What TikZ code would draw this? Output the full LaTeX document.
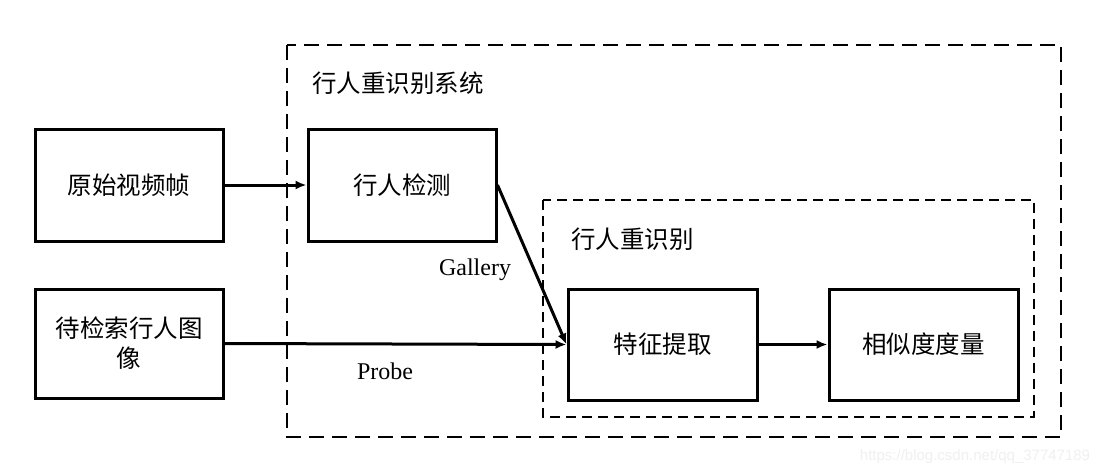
\documentclass[tikz,border=0pt]{standalone}
\usepackage{fontspec}
\setmainfont{Liberation Serif}
\newfontfamily\cjk{Noto Sans CJK SC}
\newfontfamily\wmfont{Liberation Sans}
\usetikzlibrary{arrows.meta}
\begin{document}
\begin{tikzpicture}[x=1pt,y=-1pt,
  box/.style={draw,line width=3pt,minimum width=#1,inner sep=0pt,font=\cjk\fontsize{24.5}{30}\selectfont},
  outerdash/.style={draw,line width=2.4pt,dash pattern=on 15pt off 8pt},
  innerdash/.style={draw,line width=2.2pt,dash pattern=on 10pt off 6pt},
  conn/.style={line width=3pt,-{Latex[length=11pt,width=9pt]}},
  lbl/.style={font=\cjk\fontsize{24.5}{30}\selectfont,inner sep=0pt},
  en/.style={font=\fontsize{24}{28}\selectfont,inner sep=0pt}]
\useasboundingbox (0,0) rectangle (1102,475);
\fill[white] (0,0) rectangle (1102,475);
% dashed frames
\draw[outerdash] (287,45) rectangle (1061,437);
\draw[innerdash] (543,200) rectangle (1034,417);
% boxes
\node[box=188pt,minimum height=112pt] (raw) at (129,185) {原始视频帧};
\node[box=188pt,minimum height=109pt,align=center] (probe) at (129,343.5) {待检索行人图\\像};
\node[box=188pt,minimum height=112pt] (det) at (402,185) {行人检测};
\node[box=189pt,minimum height=111pt] (fe) at (662.5,344.5) {特征提取};
\node[box=189pt,minimum height=111pt] (sim) at (923.5,344.5) {相似度度量};
% labels
\node[lbl,anchor=west] (sys) at (312,83) {行人重识别系统};
\node[lbl,anchor=west] (reid) at (571,239) {行人重识别};
\node[en] (gal) at (475,270) {Gallery};
\node[en] (prb) at (385,371) {Probe};
% connectors
\draw[conn] (raw.east) -- (det.west);
\draw[conn] (probe.east) -- (fe.west);
\draw[conn] (det.east) -- (fe.west);
\draw[conn] (fe.east) -- (sim.west);
% watermark
\node[font=\wmfont\fontsize{15}{18}\selectfont,text=black!6,inner sep=0pt] (wm) at (975,457) {https://blog.csdn.net/qq\_37747189};
\end{tikzpicture}
\end{document}
